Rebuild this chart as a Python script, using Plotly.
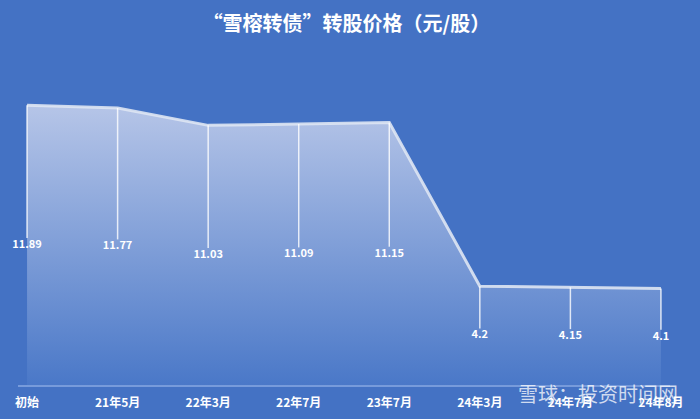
import plotly.graph_objects as go

categories = ["初始", "21年5月", "22年3月", "22年7月", "23年7月", "24年3月", "24年7月", "24年8月"]
prices = [11.89, 11.77, 11.03, 11.09, 11.15, 4.2, 4.15, 4.1]
label_texts = ["11.89", "11.77", "11.03", "11.09", "11.15", "4.2", "4.15", "4.1"]

BG = "#4472C4"
FONT = "Noto Sans CJK SC"

x_idx = list(range(len(categories)))

fig = go.Figure()

# gradient area
fig.add_trace(go.Scatter(
    x=x_idx, y=prices, mode="lines",
    line=dict(color="rgba(222,229,243,0.9)", width=3),
    fill="tozeroy",
    fillgradient=dict(type="vertical", start=0, stop=12,
                      colorscale=[[0, "rgb(74,120,200)"], [1, "rgb(183,198,232)"]]),
    hoverinfo="skip", showlegend=False, cliponaxis=False,
))

# drop lines from each point down toward its label
drop_x, drop_y = [], []
for i, v in zip(x_idx, prices):
    drop_x += [i, i, None]
    drop_y += [v, v / 2 + 0.3, None]
fig.add_trace(go.Scatter(
    x=drop_x, y=drop_y, mode="lines",
    line=dict(color="rgba(255,255,255,0.8)", width=1.5),
    hoverinfo="skip", showlegend=False, cliponaxis=False,
))

# data labels at mid-height
fig.add_trace(go.Scatter(
    x=x_idx, y=[v / 2 for v in prices], mode="text",
    text=label_texts, textposition="middle center",
    textfont=dict(family=FONT, size=11, color="white", weight="bold"),
    hoverinfo="skip", showlegend=False, cliponaxis=False,
))

fig.update_layout(
    width=700, height=419,
    paper_bgcolor=BG, plot_bgcolor=BG,
    margin=dict(l=18, r=30, t=79, b=34, autoexpand=False),
    title=dict(text="“雪榕转债”转股价格（元/股）", x=0.495, xanchor="center",
               y=1 - 24 / 419, yanchor="middle",
               font=dict(family=FONT, size=20, color="white", weight="bold")),
    xaxis=dict(range=[-0.1, 7.1], tickmode="array", tickvals=x_idx, ticktext=categories,
               showgrid=False, zeroline=False, showline=True, automargin=False,
               linecolor="rgba(125,160,222,0.9)", linewidth=1.5,
               tickfont=dict(family=FONT, size=12, color="white", weight="bold"),
               ticklabelstandoff=6,
               ticks="", fixedrange=True),
    yaxis=dict(range=[0, 13], visible=False, showgrid=False, zeroline=False,
               automargin=False, fixedrange=True),
    annotations=[dict(text="雪球：投资时间网", x=(680 - 18) / 652, y=(385 - 393) / 306,
                      xref="paper", yref="paper",
                      xanchor="right", yanchor="middle", showarrow=False,
                      font=dict(family=FONT, size=20, color="rgba(255,255,255,0.75)"))],
)

fig.write_html(
    "out.html",
    config={"displayModeBar": False},
    post_script="document.body.style.margin='0';document.body.style.background='#4472C4';",
)
